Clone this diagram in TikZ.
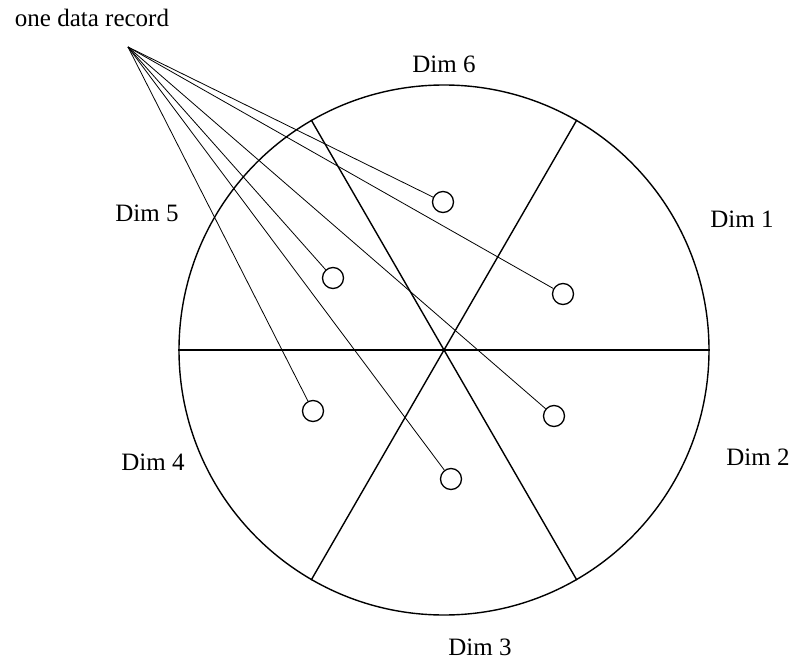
\documentclass[tikz,border=0pt]{standalone}
\usepackage{fontspec}
\setmainfont{Liberation Serif}
\usetikzlibrary{positioning}

\begin{document}
\begin{tikzpicture}[
        x=1pt, y=-1pt,
        lbl/.style={font=\fontsize{25}{30}\selectfont, inner sep=0pt, anchor=base},
        wheel/.style={draw, circle, line width=1.4pt, inner sep=0pt, minimum size=530pt},
        spoke/.style={line width=1.4pt},
        rec/.style={draw, circle, line width=1.3pt, inner sep=0pt, minimum size=21pt},
        link/.style={line width=0.8pt},
    ]
        \useasboundingbox (0,0) rectangle (792,663);

        % the wheel and its six sectors
        \node[wheel] (disc) at (444,350) {};
        \draw[spoke] (disc.180) -- (disc.0);
        \draw[spoke] (disc.120) -- (disc.-60);
        \draw[spoke] (disc.60) -- (disc.-120);

        % dimension labels
        \node[lbl] (d6) at (444,73) {Dim 6};
        \node[lbl] (d1) at (742,227) {Dim 1};
        \node[lbl] (d5) at (147,222) {Dim 5};
        \node[lbl] (d2) at (758,465) {Dim 2};
        \node[lbl] (d4) at (153,470) {Dim 4};
        \node[lbl] (d3) at (480,655) {Dim 3};

        % the record and its values
        \node[lbl] (title) at (92,27) {one data record};
        \coordinate (src) at (128,47);
        \node[rec] (v6) at (443,202) {};
        \node[rec] (v1) at (563,294) {};
        \node[rec] (v5) at (333,278) {};
        \node[rec] (v4) at (313,411) {};
        \node[rec] (v2) at (554,416) {};
        \node[rec] (v3) at (451,479) {};

        \foreach \v in {v1, v2, v3, v4, v5, v6}
            \draw[link] (src) -- (\v);
    \end{tikzpicture}
\end{document}
